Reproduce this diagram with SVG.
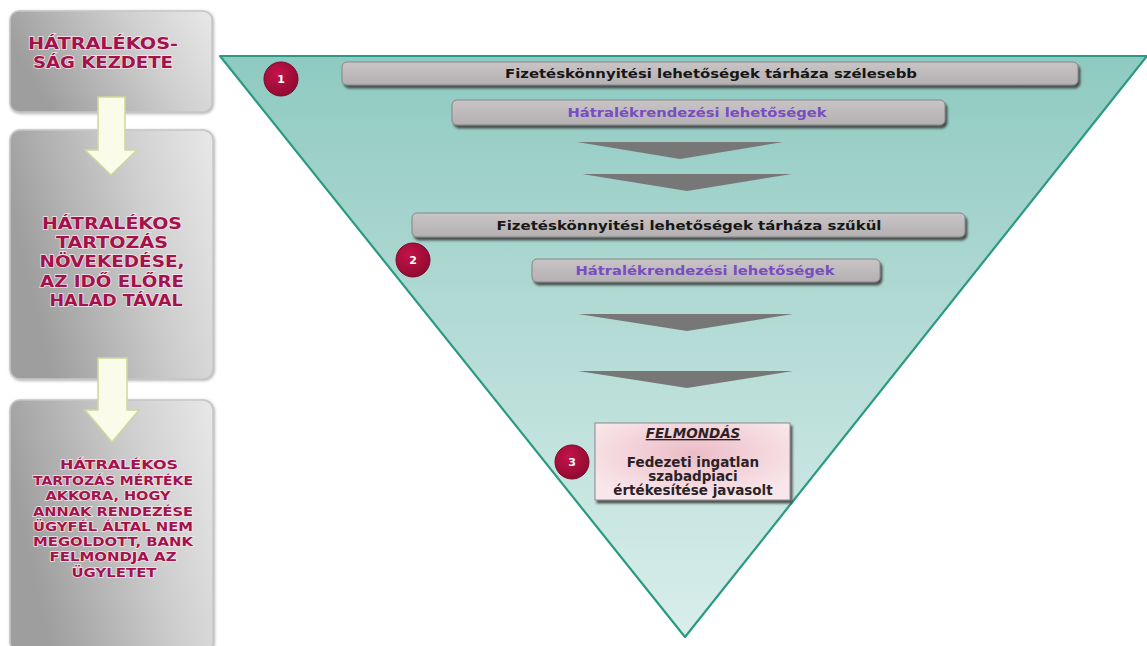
<svg xmlns="http://www.w3.org/2000/svg" width="1147" height="646" viewBox="0 0 1147 646">
<defs>
<linearGradient id="gbox" x1="0" y1="0.3" x2="1" y2="0">
<stop offset="0" stop-color="#9e9e9e"/>
<stop offset="0.6" stop-color="#cfcfcf"/>
<stop offset="1" stop-color="#e8e8e8"/>
</linearGradient>
<linearGradient id="gtri" x1="0" y1="0" x2="0" y2="1">
<stop offset="0" stop-color="#8ecac1"/>
<stop offset="0.5" stop-color="#b6dcd6"/>
<stop offset="1" stop-color="#d9eeeb"/>
</linearGradient>
<linearGradient id="gbar" x1="0" y1="0" x2="0" y2="1">
<stop offset="0" stop-color="#c9c5c6"/>
<stop offset="1" stop-color="#b4b0b1"/>
</linearGradient>
<radialGradient id="gpink" cx="0.5" cy="0.4" r="0.6">
<stop offset="0" stop-color="#ecbcc6"/>
<stop offset="1" stop-color="#f8e6ea"/>
</radialGradient>
<radialGradient id="gcirc" cx="0.4" cy="0.35" r="0.7">
<stop offset="0" stop-color="#c4134a"/>
<stop offset="1" stop-color="#8e0a30"/>
</radialGradient>
<filter id="sh" x="-10%" y="-40%" width="120%" height="180%">
<feDropShadow dx="2" dy="3" stdDeviation="1.2" flood-color="#3a3a3a" flood-opacity="0.85"/>
</filter>
<filter id="sh2" x="-10%" y="-10%" width="120%" height="120%">
<feDropShadow dx="1" dy="1" stdDeviation="1.5" flood-color="#777" flood-opacity="0.6"/>
</filter>
</defs>
<style>
.lbox{fill:url(#gbox);stroke:#c6c6c6;stroke-width:1.5}
.ltxt{font-family:"DejaVu Sans",Verdana,sans-serif;font-weight:bold;fill:#a3124a;stroke:#f4e6ea;stroke-width:1.4;paint-order:stroke;text-anchor:middle}
.arr{fill:#fbfbea;stroke:#cdd99a;stroke-width:1.5}
.bar{fill:url(#gbar);stroke:#858585;stroke-width:1;filter:url(#sh)}
.btxt{font-family:"DejaVu Sans",Verdana,sans-serif;font-weight:bold;font-size:12.5px;text-anchor:middle}
.blk{fill:#161616}
.pur{fill:#7a4cc2}
.chev{fill:#777}
.circ{fill:url(#gcirc);stroke:#7a0828;stroke-width:1}
.num{font-family:"DejaVu Sans",sans-serif;font-weight:bold;font-size:11px;fill:#fff;text-anchor:middle}
.ftxt{font-family:"DejaVu Sans",Verdana,sans-serif;font-weight:bold;font-size:13.5px;fill:#2a2226;text-anchor:middle}
</style>
<rect width="1147" height="646" fill="#fff"/>

<g id="funnel">
<polygon points="220,56 1147,56 685,637" fill="url(#gtri)" stroke="#2a9a82" stroke-width="2.2" stroke-linejoin="round"/>
</g>

<g id="box1">
<rect class="lbox" x="10" y="11" width="202" height="101" rx="9" filter="url(#sh2)"/>
<text class="ltxt" font-size="16.5" x="103" y="49" textLength="150" lengthAdjust="spacingAndGlyphs">HÁTRALÉKOS-</text>
<text class="ltxt" font-size="16.5" x="103" y="68" textLength="140" lengthAdjust="spacingAndGlyphs">SÁG KEZDETE</text>
</g>

<g id="box2">
<rect class="lbox" x="10" y="130" width="203" height="249" rx="10" filter="url(#sh2)"/>
<text class="ltxt" font-size="16.5" x="112" y="229" textLength="140" lengthAdjust="spacingAndGlyphs">HÁTRALÉKOS</text>
<text class="ltxt" font-size="16.5" x="112" y="248" textLength="112" lengthAdjust="spacingAndGlyphs">TARTOZÁS</text>
<text class="ltxt" font-size="16.5" x="112" y="267" textLength="145" lengthAdjust="spacingAndGlyphs">NÖVEKEDÉSE,</text>
<text class="ltxt" font-size="16.5" x="112" y="287" textLength="144" lengthAdjust="spacingAndGlyphs">AZ IDŐ ELŐRE</text>
<text class="ltxt" font-size="16.5" x="116" y="306" textLength="133" lengthAdjust="spacingAndGlyphs">HALAD TÁVAL</text>
</g>

<g id="box3">
<rect class="lbox" x="10" y="400" width="203" height="252" rx="10" filter="url(#sh2)"/>
<text class="ltxt" font-size="12.5" x="119" y="469" textLength="118" lengthAdjust="spacingAndGlyphs">HÁTRALÉKOS</text>
<text class="ltxt" font-size="12.5" x="113" y="485" textLength="160" lengthAdjust="spacingAndGlyphs">TARTOZÁS MÉRTÉKE</text>
<text class="ltxt" font-size="12.5" x="108" y="500" textLength="125" lengthAdjust="spacingAndGlyphs">AKKORA, HOGY</text>
<text class="ltxt" font-size="12.5" x="113" y="516" textLength="160" lengthAdjust="spacingAndGlyphs">ANNAK RENDEZÉSE</text>
<text class="ltxt" font-size="12.5" x="113" y="531" textLength="160" lengthAdjust="spacingAndGlyphs">ÜGYFÉL ÁLTAL NEM</text>
<text class="ltxt" font-size="12.5" x="113" y="546" textLength="160" lengthAdjust="spacingAndGlyphs">MEGOLDOTT, BANK</text>
<text class="ltxt" font-size="12.5" x="113" y="561" textLength="127" lengthAdjust="spacingAndGlyphs">FELMONDJA AZ</text>
<text class="ltxt" font-size="12.5" x="114" y="577" textLength="85" lengthAdjust="spacingAndGlyphs">ÜGYLETET</text>
</g>

<g id="connectors">
<polygon class="arr" points="98,97 125,97 125,150 137,150 111,175 85,150 98,150"/>
<polygon class="arr" points="98,358 127,358 127,410 139,410 112,442 85,410 98,410"/>
</g>

<g id="bar1">
<rect class="bar" x="342" y="62" width="736" height="23" rx="5"/>
<text class="btxt blk" x="711" y="78" textLength="412" lengthAdjust="spacingAndGlyphs">Fizetéskönnyitési  lehetőségek tárháza szélesebb</text>
</g>
<g id="bar2">
<rect class="bar" x="452" y="100" width="493" height="25" rx="5"/>
<text class="btxt pur" x="697" y="117" textLength="259" lengthAdjust="spacingAndGlyphs">Hátralékrendezési lehetőségek</text>
</g>
<g id="chevrons1">
<polygon class="chev" points="577,142 783,142 680,159"/>
<polygon class="chev" points="582,174 792,174 687,191"/>
</g>
<g id="bar3">
<rect class="bar" x="412" y="213" width="553" height="24" rx="5"/>
<text class="btxt blk" x="689" y="230" textLength="385" lengthAdjust="spacingAndGlyphs">Fizetéskönnyitési  lehetőségek tárháza szűkül</text>
</g>
<g id="bar4">
<rect class="bar" x="532" y="259" width="348" height="23" rx="5"/>
<text class="btxt pur" x="705" y="275" textLength="259" lengthAdjust="spacingAndGlyphs">Hátralékrendezési lehetőségek</text>
</g>
<g id="chevrons2">
<polygon class="chev" points="578,314 793,314 687,331"/>
<polygon class="chev" points="578,371 793,371 687,388"/>
</g>

<g id="step1">
<circle class="circ" cx="281" cy="79" r="17"/>
<text class="num" x="281" y="83">1</text>
</g>
<g id="step2">
<circle class="circ" cx="413" cy="260" r="17"/>
<text class="num" x="413" y="264">2</text>
</g>
<g id="step3">
<circle class="circ" cx="572" cy="462" r="17"/>
<text class="num" x="572" y="466">3</text>
</g>

<g id="felmondas">
<rect x="595" y="423" width="195" height="77" fill="url(#gpink)" stroke="#8a8a8a" stroke-width="1" filter="url(#sh)"/>
<text class="ftxt" x="693" y="438" font-style="italic" text-decoration="underline" font-size="12.5">FELMONDÁS</text>
<text class="ftxt" x="693" y="467">Fedezeti ingatlan</text>
<text class="ftxt" x="693" y="481">szabadpiaci</text>
<text class="ftxt" x="693" y="495">értékesítése javasolt</text>
</g>
</svg>
